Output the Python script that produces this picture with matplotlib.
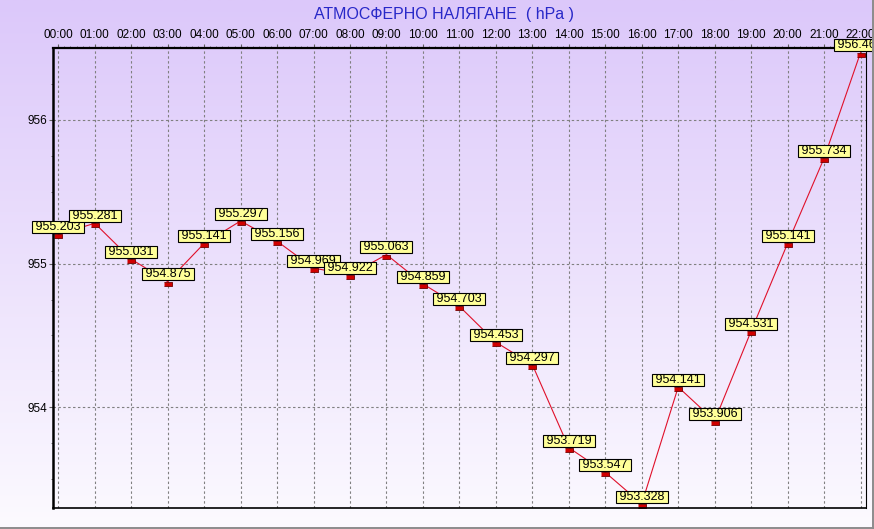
import numpy as np
import matplotlib
matplotlib.use("Agg")
import matplotlib.pyplot as plt
from matplotlib.lines import Line2D

plt.rcParams['font.family'] = ['Liberation Sans', 'DejaVu Sans']

hours = ["00:00", "01:00", "02:00", "03:00", "04:00", "05:00", "06:00", "07:00",
         "08:00", "09:00", "10:00", "11:00", "12:00", "13:00", "14:00", "15:00",
         "16:00", "17:00", "18:00", "19:00", "20:00", "21:00", "22:00"]
pressure = [955.203, 955.281, 955.031, 954.875, 955.141, 955.297, 955.156, 954.969,
            954.922, 955.063, 954.859, 954.703, 954.453, 954.297, 953.719, 953.547,
            953.328, 954.141, 953.906, 954.531, 955.141, 955.734, 956.469]
title = "АТМОСФЕРНО НАЛЯГАНЕ  ( hPa )"

x = np.arange(len(hours))

fig = plt.figure(figsize=(8.74, 5.29), dpi=100)

# background gradient (lavender at top -> white at bottom)
bg = fig.add_axes([0, 0, 1, 1], zorder=-10)
top_c = np.array([220, 200, 250]) / 255
bot_c = np.array([252, 250, 255]) / 255
t = np.linspace(0, 1, 256)[:, None]
grad = top_c[None, :] * (1 - t) + bot_c[None, :] * t
bg.imshow(grad[:, None, :], aspect='auto', extent=[0, 1, 0, 1])
bg.set_axis_off()

ax = fig.add_axes([53 / 874, 21 / 529, 813 / 874, 460 / 529])
ax.patch.set_alpha(0)

mk = [(-1, 0), (1, 0), (1, -1), (-1, -1)]
ax.plot(x, pressure, color='#e0102a', lw=0.8, marker=mk, markersize=6.2,
        markerfacecolor='#d00000', markeredgecolor='#700000', markeredgewidth=0.6,
        zorder=3)

for xi, v in zip(x, pressure):
    ax.annotate(" %.3f " % v, (xi, v), xytext=(0, 0.8), textcoords='offset points',
                ha='center', va='bottom', fontsize=9, color='black', zorder=5,
                bbox=dict(boxstyle='square,pad=0.0', fc='#ffff99', ec='black', lw=0.8))

ax.set_xlim(-0.145, 22.15)
ax.set_ylim(953.299, 956.501)

ax.xaxis.tick_top()
ax.set_xticks(x)
ax.set_xticklabels(hours)
ax.set_xticks(np.arange(0, 22.01, 1 / 6), minor=True)
ax.set_yticks([954, 955, 956])
ax.set_yticklabels(["954", "955", "956"])
ax.set_yticks(np.arange(953.5, 956.5, 0.25), minor=True)

ax.tick_params(axis='x', which='major', length=3, pad=2, labelsize=8.5, color='#606060')
ax.tick_params(axis='x', which='minor', length=1.2, color='#606060')
ax.tick_params(axis='y', which='major', length=3, pad=1.5, labelsize=8.5, color='#606060')
ax.tick_params(axis='y', which='minor', length=1.2, color='#606060')

ax.grid(True, which='major', color='#808080', linestyle=(0, (2.2, 2.2)), lw=0.8)

ax.spines['left'].set_linewidth(1.8)
ax.spines['top'].set_linewidth(1.6)
ax.spines['bottom'].set_linewidth(1.2)
ax.spines['right'].set_linewidth(0.8)
for s in ax.spines.values():
    s.set_color('black')
    s.set_zorder(4)

fig.text(0.5075, 0.9735, title, ha='center', va='center', fontsize=11.5, color='#2828c8')

# window border
fig.add_artist(Line2D([0, 872.5 / 874], [1.5 / 529, 1.5 / 529], color='#8c8c8c', lw=1.4))
fig.add_artist(Line2D([872.5 / 874, 872.5 / 874], [1.5 / 529, 1], color='#8c8c8c', lw=1.4))

fig.savefig("out.png", dpi=100)
